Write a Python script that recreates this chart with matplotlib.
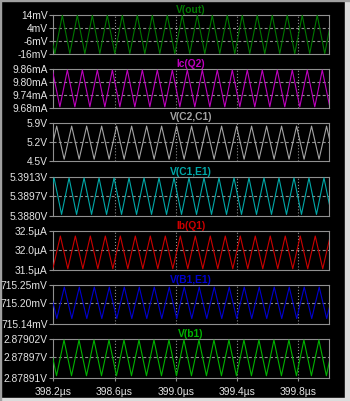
import matplotlib
matplotlib.use('Agg')
import matplotlib.pyplot as plt
from matplotlib.patches import Rectangle

plt.rcParams['font.family'] = ['Liberation Sans', 'DejaVu Sans']
plt.rcParams['lines.scale_dashes'] = False

# trace names (LTspice pane titles)
names = ['V(out)', 'Ic(Q2)', 'V(C2,C1)', 'V(C1,E1)', 'Ib(Q1)', 'V(B1,E1)', 'V(b1)']

# times (us) of successive extremes, alternating
vout_t = [398.161, 398.210, 398.259, 398.308, 398.357, 398.406, 398.455, 398.504, 398.553, 398.602,
          398.651, 398.700, 398.749, 398.798, 398.847, 398.896, 398.945, 398.994, 399.043, 399.092,
          399.141, 399.190, 399.239, 399.288, 399.337, 399.386, 399.435, 399.484, 399.533, 399.582,
          399.631, 399.680, 399.729, 399.778, 399.827, 399.876, 399.925, 399.974, 400.023]
icq2_t = [398.194, 398.243, 398.292, 398.341, 398.390, 398.439, 398.488, 398.537, 398.586, 398.635,
          398.684, 398.733, 398.782, 398.831, 398.880, 398.929, 398.978, 399.027, 399.076, 399.125,
          399.174, 399.223, 399.272, 399.321, 399.370, 399.419, 399.468, 399.517, 399.566, 399.615,
          399.664, 399.713, 399.762, 399.811, 399.860, 399.909, 399.958, 400.007]
vc2c1_t = [398.173, 398.222, 398.271, 398.320, 398.369, 398.418, 398.467, 398.516, 398.565, 398.614,
           398.663, 398.712, 398.761, 398.810, 398.859, 398.908, 398.957, 399.006, 399.055, 399.104,
           399.153, 399.202, 399.251, 399.300, 399.349, 399.398, 399.447, 399.496, 399.545, 399.594,
           399.643, 399.692, 399.741, 399.790, 399.839, 399.888, 399.937, 399.986, 400.035]
vc1e1_t = [398.156, 398.205, 398.254, 398.303, 398.352, 398.401, 398.450, 398.499, 398.548, 398.597,
           398.646, 398.695, 398.744, 398.793, 398.842, 398.891, 398.940, 398.989, 399.038, 399.087,
           399.136, 399.185, 399.234, 399.283, 399.332, 399.381, 399.430, 399.479, 399.528, 399.577,
           399.626, 399.675, 399.724, 399.773, 399.822, 399.871, 399.920, 399.969, 400.018]
ibq1_t = [398.197, 398.246, 398.295, 398.344, 398.393, 398.442, 398.491, 398.540, 398.589, 398.638,
          398.687, 398.736, 398.785, 398.834, 398.883, 398.932, 398.981, 399.030, 399.079, 399.128,
          399.177, 399.226, 399.275, 399.324, 399.373, 399.422, 399.471, 399.520, 399.569, 399.618,
          399.667, 399.716, 399.765, 399.814, 399.863, 399.912, 399.961, 400.010]
vb1e1_t = [398.174, 398.223, 398.272, 398.321, 398.370, 398.419, 398.468, 398.517, 398.566, 398.615,
           398.664, 398.713, 398.762, 398.811, 398.860, 398.909, 398.958, 399.007, 399.056, 399.105,
           399.154, 399.203, 399.252, 399.301, 399.350, 399.399, 399.448, 399.497, 399.546, 399.595,
           399.644, 399.693, 399.742, 399.791, 399.840, 399.889, 399.938, 399.987, 400.036]
vb1_t = [398.172, 398.221, 398.270, 398.319, 398.368, 398.417, 398.466, 398.515, 398.564, 398.613,
         398.662, 398.711, 398.760, 398.809, 398.858, 398.907, 398.956, 399.005, 399.054, 399.103,
         399.152, 399.201, 399.250, 399.299, 399.348, 399.397, 399.446, 399.495, 399.544, 399.593,
         399.642, 399.691, 399.740, 399.789, 399.838, 399.887, 399.936, 399.985, 400.034]

# level of the first extreme, then the next one (pane units)
vout_lvl = [13.8, -15.8]            # mV
icq2_lvl = [9.855, 9.685]           # mA
vc2c1_lvl = [4.58, 5.77]            # V
vc1e1_lvl = [5.3881, 5.3912]        # V
ibq1_lvl = [31.53, 32.37]           # uA
vb1e1_lvl = [715.245, 715.156]      # mV
vb1_lvl = [2.879018, 2.878917]      # V

# y axes
ylims = [(-16, 14), (9.68, 9.86), (4.5, 5.9), (5.3880, 5.3913), (31.5, 32.5),
         (715.14, 715.25), (2.87891, 2.87902)]
yticks = [[-16, -6, 4, 14], [9.68, 9.74, 9.80, 9.86], [4.5, 5.2, 5.9],
          [5.3880, 5.38965, 5.3913], [31.5, 32.0, 32.5],
          [715.14, 715.20, 715.25], [2.87891, 2.87897, 2.87902]]
ylabels = [['-16mV', '-6mV', '4mV', '14mV'],
           ['9.68mA', '9.74mA', '9.80mA', '9.86mA'],
           ['4.5V', '5.2V', '5.9V'],
           ['5.3880V', '5.3897V', '5.3913V'],
           ['31.5µA', '32.0µA', '32.5µA'],
           ['715.14mV', '715.20mV', '715.25mV'],
           ['2.87891V', '2.87897V', '2.87902V']]

# x axis
xticks = [398.2, 398.6, 399.0, 399.4, 399.8]
xlabels = ['398.2µs', '398.6µs', '399.0µs', '399.4µs', '399.8µs']

colors = ['#007800', '#bf00bf', '#a4a4a4', '#00a8a8', '#cc0000', '#0000d0', '#00b400']

times = [vout_t, icq2_t, vc2c1_t, vc1e1_t, ibq1_t, vb1e1_t, vb1_t]
levels = [vout_lvl, icq2_lvl, vc2c1_lvl, vc1e1_lvl, ibq1_lvl, vb1e1_lvl, vb1_lvl]

W, H = 350, 401
fig = plt.figure(figsize=(W / 100, H / 100), dpi=100, facecolor='black')

left, right = 53.3, 328.7
tops = [15, 69, 122.5, 176.7, 231, 285.3, 339.3]
ph = 38.9
frame = '#909090'

for i in range(7):
    ax = fig.add_axes([left / W, 1 - (tops[i] + ph) / H, (right - left) / W, ph / H])
    ax.set_facecolor('black')
    t = times[i]
    v = [levels[i][k % 2] for k in range(len(t))]
    ax.plot(t, v, color=colors[i], lw=0.8, zorder=3)
    ax.set_xlim(398.2, 400.0)
    ax.set_ylim(*ylims[i])
    ax.set_yticks(yticks[i])
    ax.set_yticklabels(ylabels[i])
    ax.set_xticks(xticks)
    for y in yticks[i][1:-1]:
        ax.axhline(y, color=frame, lw=0.8, ls=(0, (2.2, 1.6)), zorder=1)
    for x in xticks[1:]:
        ax.axvline(x, color=frame, lw=0.8, ls=(0, (0.8, 1.4)), zorder=1)
    for s in ax.spines.values():
        s.set_color(frame)
        s.set_linewidth(0.8)
    ax.tick_params(axis='y', direction='out', length=3, width=0.8, color=frame,
                   labelcolor='#e4e4e4', labelsize=7.4, pad=1)
    if i == 6:
        ax.set_xticklabels(xlabels)
        ax.tick_params(axis='x', direction='out', length=2.5, width=0.8, color=frame,
                       labelcolor='#e4e4e4', labelsize=7.4, pad=4)
    else:
        ax.tick_params(axis='x', length=0, labelbottom=False)
    ax.set_title(names[i], color=colors[i], fontsize=7.4, fontweight='bold', pad=1.5)

# window border
fig.add_artist(Rectangle((345 / W, 0), 5 / W, 1, transform=fig.transFigure,
                         color='#dcdcdc', zorder=0))
fig.add_artist(Rectangle((0, 0), 1, 3 / H, transform=fig.transFigure,
                         color='#dcdcdc', zorder=0))
fig.add_artist(Rectangle((0, 0), 1 / W, 1, transform=fig.transFigure,
                         color='#a0a0a0', zorder=0))
fig.add_artist(Rectangle((0, 1 - 1 / H), 1, 1 / H, transform=fig.transFigure,
                         color='#a0a0a0', zorder=0))

fig.savefig('out.png', dpi=100, facecolor='black')
